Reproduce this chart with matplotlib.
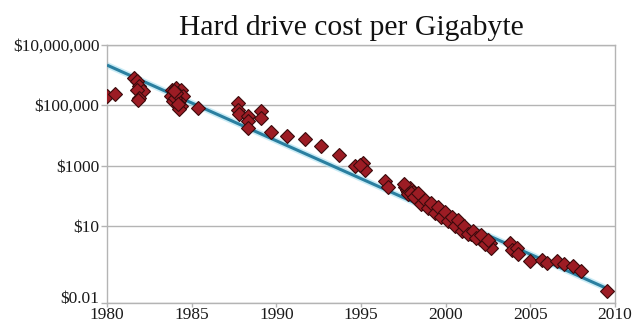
#!/usr/bin/env python3
"""Hard drive cost per gigabyte, 1980-2010, on a log scale."""

import matplotlib
matplotlib.use("Agg")
import matplotlib.pyplot as plt
import matplotlib.transforms as mtransforms
from matplotlib.ticker import FixedLocator, FixedFormatter, NullLocator

# Observed prices: year and log10 of dollars per gigabyte
years = [
    1980.0, 1980.45,
    1981.6, 1981.75, 1981.9, 1982.1, 1981.8, 1981.9, 1981.85,
    1983.85, 1984.08, 1984.38, 1983.8, 1984.18, 1984.47, 1983.88, 1984.28,
    1984.0, 1984.38, 1984.28, 1984.08, 1983.95, 1984.2,
    1985.4,
    1987.73, 1987.73, 1987.78, 1988.32, 1988.32, 1988.32, 1989.1, 1989.1,
    1989.66, 1990.65, 1991.67, 1992.66, 1993.69,
    1994.63, 1995.12, 1995.22, 1994.95,
    1996.4, 1996.6,
    1997.6, 1997.7, 1997.8, 1997.9, 1998.0, 1998.1, 1998.2, 1998.3, 1998.4,
    1998.5, 1998.6, 1998.8, 1998.9, 1999.0, 1999.2, 1999.3, 1999.4, 1999.5,
    1999.6, 1999.8, 1999.9, 2000.0, 2000.1, 2000.2, 2000.3, 2000.4, 2000.5,
    2000.6, 2000.7, 2000.9, 2001.0, 2001.2, 2001.4, 2001.5, 2001.7, 2001.9,
    2002.0, 2002.2, 2002.4, 2002.6, 2002.7,
    1997.55, 1997.75, 1997.95, 1998.15, 1998.35, 1998.55, 1998.75, 1998.95,
    1999.15, 1999.35, 1999.55, 1999.75, 1999.95, 2000.15, 2000.35, 2000.55,
    2000.75, 2000.95, 2001.1, 2001.3, 2001.6, 2001.8, 2002.1, 2002.3, 2002.5,
    2003.8, 2003.9, 2004.2, 2004.3,
    2005.0, 2005.7, 2006.0, 2006.6, 2006.96, 2007.5, 2008.0,
    2009.5,
]
log_cost = [
    5.29, 5.37,
    5.88, 5.79, 5.62, 5.46, 5.51, 5.24, 5.16,
    5.51, 5.57, 5.51, 5.29, 5.35, 5.29, 5.13, 5.13,
    5.24, 4.96, 4.86, 5.40, 5.45, 5.05,
    4.91,
    5.08, 4.85, 4.69, 4.63, 4.47, 4.25, 4.80, 4.58,
    4.11, 3.97, 3.89, 3.64, 3.34,
    2.98, 3.10, 2.87, 3.02,
    2.49, 2.30,
    2.30, 2.20, 2.12, 2.25, 2.05, 2.12, 1.98, 2.00, 1.90,
    1.83, 1.90, 1.75, 1.68, 1.74, 1.58, 1.62, 1.52, 1.47,
    1.52, 1.40, 1.34, 1.40, 1.26, 1.30, 1.18, 1.22, 1.10,
    1.03, 1.12, 0.97, 0.90, 0.86, 0.80, 0.74, 0.70, 0.66,
    0.58, 0.62, 0.50, 0.45, 0.29,
    2.38, 2.05, 2.10, 1.95, 2.08, 1.72, 1.88, 1.60,
    1.75, 1.45, 1.62, 1.30, 1.48, 1.18, 1.30, 1.00,
    1.20, 0.85, 1.00, 0.74, 0.85, 0.60, 0.72, 0.40, 0.55,
    0.45, 0.23, 0.29, 0.07,
    -0.15, -0.10, -0.21, -0.15, -0.26, -0.32, -0.48,
    -1.14,
]
cost = [10 ** v for v in log_cost]

# Exponential trend line end points
trend_years = [1980.0, 2009.45]
trend_cost = [10 ** 6.32, 10 ** -1.04]

y_min = 10 ** -1.52
y_ticks = [y_min, 10, 1e3, 1e5, 1e7]
y_labels = ["$0.01", "$10", "$1000", "$100,000", "$10,000,000"]
x_ticks = [1980, 1985, 1990, 1995, 2000, 2005, 2010]

serif = ["Liberation Serif", "DejaVu Serif"]
grey = "#b4b4b4"

fig = plt.figure(figsize=(6.34, 3.24), dpi=100)
ax = fig.add_axes([107 / 634, 21.5 / 324, 508 / 634, 258 / 324])

ax.plot(trend_years, trend_cost, color="#a8e0f0", linewidth=4.5, alpha=0.6,
        solid_capstyle="butt", zorder=2)
ax.plot(trend_years, trend_cost, color="#2a7fa0", linewidth=2.2,
        solid_capstyle="butt", zorder=3)
ax.plot(years, cost, linestyle="none", marker="D", markersize=7.3,
        markerfacecolor="#9c1c24", markeredgecolor="#3a0a0c",
        markeredgewidth=0.8, zorder=4)

ax.set_yscale("log")
ax.set_ylim(y_min, 1e7)
ax.set_xlim(1980, 2010)
ax.yaxis.set_major_locator(FixedLocator(y_ticks))
ax.yaxis.set_major_formatter(FixedFormatter(y_labels))
ax.yaxis.set_minor_locator(NullLocator())
ax.set_xticks(x_ticks)

ax.grid(axis="y", color=grey, linewidth=1.0)
ax.set_axisbelow(True)
for side in ["left", "bottom", "top", "right"]:
    ax.spines[side].set_color(grey)
    ax.spines[side].set_linewidth(1.0)

ax.tick_params(axis="both", length=4, width=1.0, color=grey, labelsize=12.5,
               labelcolor="#1a1a1a", pad=1.5)
ax.tick_params(axis="x", length=3, pad=0)
for lbl in ax.get_xticklabels() + ax.get_yticklabels():
    lbl.set_family(serif)

# lift the bottom y label a little so it clears the first year label
bottom_lbl = ax.yaxis.get_major_ticks()[0].label1
bottom_lbl.set_transform(bottom_lbl.get_transform()
                         + mtransforms.ScaledTranslation(0, 4 / 72, fig.dpi_scale_trans))

fig.text(351 / 634, (324 - 35) / 324, "Hard drive cost per Gigabyte",
         ha="center", va="baseline", fontsize=21.3, family=serif, color="#111111")

fig.savefig("out.png", dpi=100)
